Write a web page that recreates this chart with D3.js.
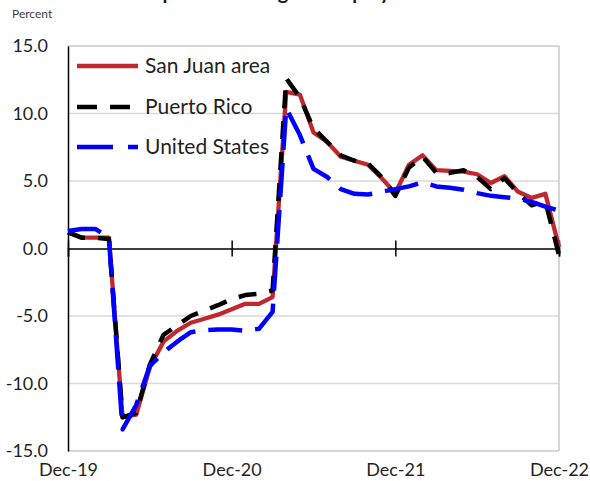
<!DOCTYPE html>
<html>
<head>
<meta charset="utf-8">
<script src="https://cdn.jsdelivr.net/npm/d3@7"></script>
<style>
  html, body { margin: 0; padding: 0; background: #fff; }
  svg { display: block; }
  text { font-family: Lato, "Open Sans", sans-serif; }
</style>
</head>
<body>
<script>
// ---------- data ----------
const months = ["Dec-19","Jan-20","Feb-20","Mar-20","Apr-20","May-20","Jun-20","Jul-20","Aug-20","Sep-20","Oct-20","Nov-20",
  "Dec-20","Jan-21","Feb-21","Mar-21","Apr-21","May-21","Jun-21","Jul-21","Aug-21","Sep-21","Oct-21","Nov-21",
  "Dec-21","Jan-22","Feb-22","Mar-22","Apr-22","May-22","Jun-22","Jul-22","Aug-22","Sep-22","Oct-22","Nov-22","Dec-22"];
const sanJuan = [1.2, 0.8, 0.8, 0.8, -12.5, -12.3, -8.8, -6.9, -6.1, -5.5, -5.2, -4.9,
  -4.5, -4.1, -4.1, -3.6, 11.6, 11.4, 8.6, 7.9, 6.8, 6.5, 6.2, 5.2,
  4.1, 6.2, 6.9, 5.8, 5.75, 5.7, 5.5, 4.85, 5.35, 4.2, 3.75, 4.05, 0.1];
const puertoRico = [1.2, 0.8, 0.8, 0.7, -12.5, -12.2, -8.6, -6.4, -5.7, -5.0, -4.6, -4.2,
  -3.75, -3.45, -3.35, -3.1, 12.6, 11.2, 8.9, 7.9, 6.9, 6.5, 6.3, 5.3,
  3.9, 6.0, 6.8, 5.6, 5.6, 5.8, 5.3, 4.4, 5.2, 4.1, 3.2, 3.5, -0.5];
const unitedStates = [1.3, 1.45, 1.45, 0.8, -13.4, -11.6, -8.7, -7.7, -6.9, -6.2, -6.05, -6.0,
  -6.0, -6.1, -5.95, -4.7, 10.4, 8.4, 5.9, 5.3, 4.4, 4.05, 4.0, 4.2,
  4.4, 4.6, 4.9, 4.6, 4.5, 4.35, 4.1, 3.9, 3.8, 3.7, 3.45, 3.1, 2.8];
const seriesNames = ["San Juan area", "Puerto Rico", "United States"];
const yTicks = [-15, -10, -5, 0, 5, 10, 15];
const xTickIdx = [0, 12, 24, 36];
const titleText = "12-month percent change in employment";
const unitLabel = "Percent";

// ---------- layout ----------
const W = 590, H = 481;
const L = 68, R = 559, T = 46, B = 451;

const svg = d3.select("body").append("svg").attr("width", W).attr("height", H);

const x = d3.scaleLinear().domain([0, months.length - 1]).range([L, R]);
const y = d3.scaleLinear().domain([-15, 15]).range([B, T]);

// title (only its descenders show at the top edge in the reference)
svg.append("text").attr("x", 69).attr("y", -1).attr("font-weight", "bold").attr("font-size", 20)
  .attr("fill", "#1a1a1a").text(titleText);

svg.append("text").attr("x", 12).attr("y", 18).attr("font-size", 12).attr("fill", "#404040").text(unitLabel);

// gridlines
svg.append("g").selectAll("line").data(yTicks.filter(v => v !== 0 && v !== -15 && v !== 15)).join("line")
  .attr("x1", L).attr("x2", R).attr("y1", d => y(d)).attr("y2", d => y(d))
  .attr("stroke", "#d9d9d9").attr("stroke-width", 1.3);
// plot border top, right & bottom
svg.append("line").attr("x1", L).attr("x2", R).attr("y1", T).attr("y2", T).attr("stroke", "#c8c8c8").attr("stroke-width", 1.5);
svg.append("line").attr("x1", R).attr("x2", R).attr("y1", T).attr("y2", B).attr("stroke", "#c8c8c8").attr("stroke-width", 1.5);
svg.append("line").attr("x1", L).attr("x2", R).attr("y1", B).attr("y2", B).attr("stroke", "#c8c8c8").attr("stroke-width", 1.5);

// y axis
const yAxis = d3.axisLeft(y).tickValues(yTicks).tickSize(0).tickPadding(20)
  .tickFormat(d => d.toFixed(1));
const gy = svg.append("g").attr("transform", `translate(${L},0)`).call(yAxis);
gy.select(".domain").attr("stroke", "#000").attr("stroke-width", 1.5);
gy.selectAll("text").attr("font-size", 18).attr("fill", "#1f1f1f").style("font-family", "Lato, sans-serif");

// x axis at zero
const xAxis = d3.axisBottom(x).tickValues(xTickIdx).tickSize(8).tickFormat("");
const gx = svg.append("g").attr("transform", `translate(0,${y(0)})`).call(xAxis);
gx.select(".domain").attr("stroke", "#000").attr("stroke-width", 1.5);
gx.selectAll(".tick line").attr("y1", -8).attr("y2", 8).attr("stroke", "#000").attr("stroke-width", 1.5);

// x labels at bottom
const xAxisB = d3.axisBottom(x).tickValues(xTickIdx).tickSize(0).tickPadding(12)
  .tickFormat(i => months[i]);
const gxb = svg.append("g").attr("transform", `translate(0,${B})`).call(xAxisB);
gxb.select(".domain").remove();
gxb.selectAll("text").attr("font-size", 18).attr("fill", "#1f1f1f").style("font-family", "Lato, sans-serif");

// lines
const line = d3.line().x((d, i) => x(i)).y(d => y(d));
const styles = [
  { data: sanJuan, color: "#c0282d", width: 4.3, dash: null },
  { data: puertoRico, color: "#000000", width: 4.5, dash: "18,13" },
  { data: unitedStates, color: "#0000ff", width: 4.5, dash: "34,13" }
];
styles.forEach(s => {
  svg.append("path").datum(s.data).attr("d", line).attr("fill", "none")
    .attr("stroke", s.color).attr("stroke-width", s.width)
    .attr("stroke-dasharray", s.dash).attr("stroke-linejoin", "round");
});

// legend
const legY = [66, 107, 147];
const leg = svg.append("g");
styles.forEach((s, k) => {
  let ln = leg.append("line").attr("x1", 77).attr("x2", 138).attr("y1", legY[k]).attr("y2", legY[k])
    .attr("stroke", s.color).attr("stroke-width", s.width);
  if (k === 1) ln.attr("stroke-dasharray", "20,13");
  if (k === 2) ln.attr("stroke-dasharray", "36,15");
  leg.append("text").attr("x", 145).attr("y", legY[k]).attr("dy", "0.35em")
    .attr("font-size", 21).attr("fill", "#1f1f1f").text(seriesNames[k]);
});
</script>
</body>
</html>
